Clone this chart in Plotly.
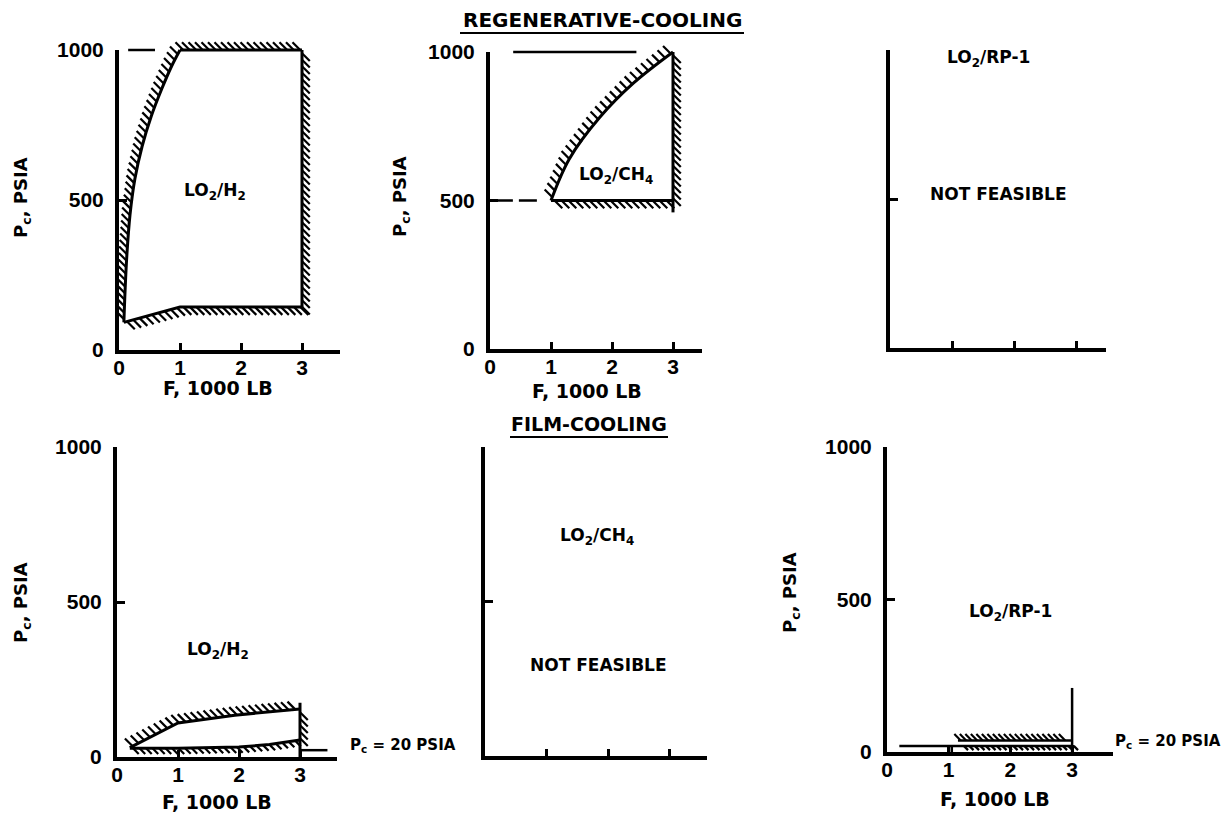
import numpy as np
import plotly.graph_objects as go

W, H = 1229, 814
OFF = 8  # page margin of the browser around the figure
FONT = "DejaVu Sans"
TICKFONT = "Liberation Sans"

# ---------------- data (F in 1000 lb, Pc in psia) ----------------
x_ticks = [0, 1, 2, 3]
x_tick_labels = ["0", "1", "2", "3"]
y_ticks = [0, 500, 1000]
y_tick_labels = ["0", "500", "1000"]

# Panel 1: regenerative cooling, LO2/H2
p1_left_F = [0.08, 0.10, 0.13, 0.18, 0.26, 0.38, 0.53, 0.70, 0.86, 1.0]
p1_left_Pc = [92, 200, 320, 450, 570, 680, 780, 870, 945, 1000]
p1_top_F = [1.0, 3.0]
p1_top_Pc = [1000, 1000]
p1_right_F = [3.0, 3.0]
p1_right_Pc = [1000, 143]
p1_bottom_F = [0.08, 1.0, 3.0]
p1_bottom_Pc = [92, 143, 143]
p1_dash_F = [0.15, 0.59]
p1_dash_Pc = [1000, 1000]

# Panel 2: regenerative cooling, LO2/CH4
p2_curve_F = [1.0, 1.3, 1.8, 2.35, 3.0]
p2_curve_Pc = [500, 640, 780, 895, 1000]
p2_bottom_F = [1.0, 3.0]
p2_bottom_Pc = [500, 500]
p2_right_F = [3.0, 3.0]
p2_right_Pc = [1000, 460]
p2_dash_F = [0.08, 0.78]
p2_dash_Pc = [500, 500]
p2_top_F = [0.38, 2.4]
p2_top_Pc = [1000, 1000]

# Panel 4: film cooling, LO2/H2
p4_upper_F = [0.21, 1.0, 1.93, 3.0]
p4_upper_Pc = [30, 110, 135, 155]
p4_right_F = [3.0, 3.0]
p4_right_Pc = [175, 0]
p4_lower_F = [0.21, 1.0, 2.0, 2.5, 3.0]
p4_lower_Pc = [28, 28, 32, 40, 55]
p4_limit_F = [3.0, 3.45]
p4_limit_Pc = [22, 22]

# Panel 6: film cooling, LO2/RP-1
p6_limit_F = [0.2, 3.0]
p6_limit_Pc = [20, 20]
p6_upper_F = [1.15, 3.0]
p6_upper_Pc = [38, 38]
p6_right_F = [3.0, 3.0]
p6_right_Pc = [210, 0]
p6_mark_F = [1.05, 1.05]
p6_mark_Pc = [0, 20]

# ---------------- panel geometry (screen pixels) ----------------
panels = [
    dict(ox=119, oy=350, sx=61.0, ytop=50, xend=340, xlab=True, ylab=True),
    dict(ox=490, oy=349, sx=61.0, ytop=52, xend=702, xlab=True, ylab=True),
    dict(ox=890, oy=348, sx=62.0, ytop=50, xend=1106, xlab=False, ylab=False),
    dict(ox=117, oy=757, sx=61.0, ytop=447, xend=337, xlab=True, ylab=True),
    dict(ox=485, oy=756, sx=61.5, ytop=447, xend=707, xlab=False, ylab=False),
    dict(ox=887, oy=752, sx=61.7, ytop=447, xend=1113, xlab=True, ylab=True),
]
PAD = 22
for p in panels:
    p["sy"] = (p["oy"] - p["ytop"]) / 1000.0


def fx(px):
    return (px - OFF) / W


def fy(py):
    return 1 - (py - OFF) / H


fig = go.Figure()
layout = dict(
    width=W, height=H, margin=dict(l=0, r=0, t=0, b=0, pad=0, autoexpand=False),
    paper_bgcolor="white", plot_bgcolor="rgba(0,0,0,0)", showlegend=False,
    template="none",
)

tickfont = dict(family=TICKFONT, size=21, color="black", weight="bold")

for i, p in enumerate(panels):
    fi = i + 1          # frame axes
    di = i + 7          # data axes
    xmax = (p["xend"] - p["ox"]) / p["sx"]
    layout[f"xaxis{fi}"] = dict(
        domain=[fx(p["ox"]), fx(p["xend"])], range=[0, xmax], anchor=f"y{fi}",
        showline=True, linewidth=4, linecolor="black", ticks="inside", ticklen=7,
        tickwidth=3, tickcolor="black", tickvals=x_ticks, ticktext=x_tick_labels,
        showticklabels=p["xlab"], tickfont=tickfont, ticklabelstandoff=-4,
        showgrid=False, zeroline=False, fixedrange=True, automargin=False,
    )
    layout[f"yaxis{fi}"] = dict(
        domain=[fy(p["oy"]), fy(p["ytop"])], range=[0, 1000], anchor=f"x{fi}",
        showline=True, linewidth=4, linecolor="black", ticks="inside", ticklen=8,
        tickwidth=3, tickcolor="black", tickvals=y_ticks, ticktext=y_tick_labels,
        showticklabels=p["ylab"], tickfont=tickfont, ticklabelstandoff=7,
        showgrid=False, zeroline=False, fixedrange=True, automargin=False,
    )
    layout[f"xaxis{di}"] = dict(
        domain=[fx(p["ox"] - PAD), fx(p["xend"] + PAD)],
        range=[-PAD / p["sx"], (p["xend"] + PAD - p["ox"]) / p["sx"]],
        anchor=f"y{di}", visible=False, fixedrange=True, automargin=False,
    )
    layout[f"yaxis{di}"] = dict(
        domain=[fy(p["oy"] + PAD), fy(p["ytop"] - PAD)],
        range=[-PAD / p["sy"], 1000 + PAD / p["sy"]],
        anchor=f"x{di}", visible=False, fixedrange=True, automargin=False,
    )
    fig.add_trace(go.Scatter(x=[0], y=[0], mode="markers", marker=dict(opacity=0),
                             xaxis=f"x{fi}", yaxis=f"y{fi}", hoverinfo="skip"))


def hatch(xs, ys, p, side, step=6.5, length=11.0):
    """Short '\\' strokes along a boundary; side=+1 down-right, -1 up-left."""
    X = np.asarray(xs, float) * p["sx"]
    Y = np.asarray(ys, float) * p["sy"]
    seg = np.hypot(np.diff(X), np.diff(Y))
    cum = np.concatenate([[0], np.cumsum(seg)])
    total = cum[-1]
    s_vals = np.arange(step / 2, total, step)
    px = np.interp(s_vals, cum, X)
    py = np.interp(s_vals, cum, Y)
    d = side * length / np.sqrt(2)
    hx, hy = [], []
    for a, b in zip(px, py):
        hx += [a / p["sx"], (a + d) / p["sx"], None]
        hy += [b / p["sy"], (b - d) / p["sy"], None]
    return hx, hy


def line(i, xs, ys, width=3, dash=None, shape="linear"):
    fig.add_trace(go.Scatter(x=xs, y=ys, mode="lines",
                             line=dict(color="black", width=width, dash=dash, shape=shape),
                             xaxis=f"x{i + 7}", yaxis=f"y{i + 7}", hoverinfo="skip"))


def hatched(i, xs, ys, side, **kw):
    hx, hy = hatch(xs, ys, panels[i], side, **kw)
    line(i, hx, hy, width=2.2)


# Panel 1
line(0, p1_left_F, p1_left_Pc, shape="spline")
line(0, p1_top_F, p1_top_Pc)
line(0, p1_right_F, p1_right_Pc)
line(0, p1_bottom_F, p1_bottom_Pc)
line(0, p1_dash_F, p1_dash_Pc, width=2.5)
hatched(0, p1_left_F, p1_left_Pc, -1)
hatched(0, p1_top_F, p1_top_Pc, -1)
hatched(0, p1_right_F, p1_right_Pc, +1)
hatched(0, p1_bottom_F, p1_bottom_Pc, +1)

# Panel 2
line(1, p2_curve_F, p2_curve_Pc, shape="spline")
line(1, p2_bottom_F, p2_bottom_Pc)
line(1, p2_right_F, p2_right_Pc)
line(1, p2_dash_F, p2_dash_Pc, width=2.5, dash="18px,6px")
line(1, p2_top_F, p2_top_Pc, width=2.5)
hatched(1, p2_curve_F, p2_curve_Pc, -1, step=7.0)
hatched(1, p2_bottom_F, p2_bottom_Pc, +1, step=7.0)
hatched(1, [3.0, 3.0], [1000, 490], +1)

# Panel 4
line(3, p4_upper_F, p4_upper_Pc)
line(3, p4_right_F, p4_right_Pc)
line(3, p4_lower_F, p4_lower_Pc)
line(3, p4_limit_F, p4_limit_Pc, width=2.5)
hatched(3, p4_upper_F, p4_upper_Pc, -1, step=6.5)
hatched(3, [3.0, 3.0], [155, 40], +1)
hatched(3, p4_lower_F, p4_lower_Pc, +1, step=6.5, length=8)

# Panel 6
line(5, p6_limit_F, p6_limit_Pc, width=2.5)
line(5, p6_upper_F, p6_upper_Pc, width=2.5)
line(5, p6_right_F, p6_right_Pc, width=2.5)
line(5, p6_mark_F, p6_mark_Pc, width=2.5)
hatched(5, [1.15, 2.95], [38, 38], -1, step=5.5, length=9)
hatched(5, [1.2, 3.05], [20, 20], +1, step=5.5, length=6)

fig.update_layout(**layout)


def text(px, py, s, size=17, angle=0):
    fig.add_annotation(x=fx(px), y=fy(py), xref="paper", yref="paper", text=s,
                       showarrow=False, xanchor="center", yanchor="middle", textangle=angle,
                       font=dict(family=FONT, size=size, color="black", weight="bold"))


def underline(x0, x1, py):
    fig.add_shape(type="line", xref="paper", yref="paper", x0=fx(x0), x1=fx(x1),
                  y0=fy(py), y1=fy(py), line=dict(color="black", width=2))


# section titles
text(602, 20, "REGENERATIVE-COOLING", size=20)
text(589, 424, "FILM-COOLING", size=19)
underline(460, 744, 33)
underline(510, 668, 437)

# axis titles
ytitle = "P<sub>c</sub>, PSIA"
xtitle = "F, 1000 LB"
for (px, py) in [(22, 198), (401, 196), (22, 603), (791, 593)]:
    text(px, py, ytitle, size=18, angle=-90)
for (px, py) in [(218, 388), (587, 391), (217, 802), (995, 799)]:
    text(px, py, xtitle, size=19)

# in-plot labels
text(215, 192, "LO<sub>2</sub>/H<sub>2</sub>")
text(616, 176, "LO<sub>2</sub>/CH<sub>4</sub>")
text(988, 58, "LO<sub>2</sub>/RP-1")
text(998, 194, "NOT FEASIBLE")
text(218, 650, "LO<sub>2</sub>/H<sub>2</sub>")
text(597, 536, "LO<sub>2</sub>/CH<sub>4</sub>")
text(598, 665, "NOT FEASIBLE")
text(1010, 612, "LO<sub>2</sub>/RP-1")
text(403, 745, "P<sub>c</sub> = 20 PSIA", size=15)
text(1168, 741, "P<sub>c</sub> = 20 PSIA", size=15)

fig.write_html("out.html")
